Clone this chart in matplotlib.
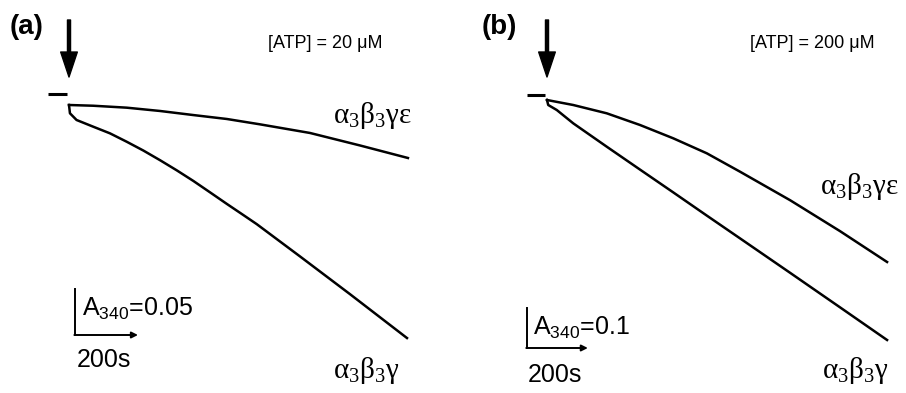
import matplotlib
matplotlib.use("Agg")
import matplotlib.pyplot as plt

plt.rcParams['font.family'] = ['Liberation Sans', 'DejaVu Sans']
plt.rcParams['mathtext.fontset'] = 'custom'
plt.rcParams['mathtext.rm'] = 'Liberation Serif'
plt.rcParams['mathtext.it'] = 'Liberation Serif'

# --- data (time in s, drop in A340 from the start) ---
# panel (a), [ATP] = 20 uM
t_a_eps = [0, 77, 183, 289, 394, 501, 606, 765, 924, 1076]
dA_a_eps = [0, 0.0008, 0.0029, 0.0065, 0.0109, 0.0152, 0.0210, 0.0304, 0.0440, 0.0576]
t_a_noeps = [0, 3, 24, 77, 130, 183, 236, 289, 342, 395, 448, 501, 553, 596, 733, 892, 1073]
dA_a_noeps = [0, 0.0090, 0.0163, 0.0236, 0.0308, 0.0399, 0.0495, 0.0600, 0.0710,
              0.0826, 0.0950, 0.1075, 0.1195, 0.1295, 0.1645, 0.2056, 0.2533]

# panel (b), [ATP] = 200 uM
t_b_eps = [0, 86, 196, 305, 414, 524, 633, 797, 961, 1115]
dA_b_eps = [0, 0.0125, 0.0333, 0.0625, 0.0958, 0.1333, 0.1793, 0.2505, 0.328, 0.405]
t_b_noeps = [0, 4, 32, 86, 196, 305, 414, 524, 633, 797, 961, 1115]
dA_b_noeps = [0, 0.0125, 0.025, 0.0583, 0.1168, 0.174, 0.231, 0.289, 0.346, 0.432, 0.5185, 0.6]

scale_time = 200  # s
scale_abs_a = 0.05
scale_abs_b = 0.1

W, H = 906, 393
fig = plt.figure(figsize=(W / 100, H / 100), dpi=100)


def make_axes(x0, x1, ox, oy, px_per_s, px_per_A):
    ax = fig.add_axes([x0 / W, 0, (x1 - x0) / W, 1])
    ax.set_xlim((x0 - ox) / px_per_s, (x1 - ox) / px_per_s)
    ax.set_ylim(-(H - oy) / px_per_A, oy / px_per_A)
    ax.axis('off')
    return ax


def draw_panel(ax, t1, d1, t2, d2, sbar_abs, sb_t, sb_top, dash, arrow):
    ax.plot(t1, [-v for v in d1], color='black', lw=1.8, solid_joinstyle='round')
    ax.plot(t2, [-v for v in d2], color='black', lw=1.8, solid_joinstyle='round')
    # baseline tick before injection
    ax.plot(dash[:2], [dash[2]] * 2, color='black', lw=2.2, solid_capstyle='butt')
    # injection arrow
    ax.annotate('', xy=(0, arrow[1]), xytext=(0, arrow[0]),
                arrowprops=dict(width=2.2, headwidth=12, headlength=18, color='black'))
    # scale bar
    ax.plot([sb_t, sb_t], [sb_top, sb_top - sbar_abs], color='black', lw=1.4)
    ax.annotate('', xy=(sb_t + scale_time, sb_top - sbar_abs), xytext=(sb_t - 2, sb_top - sbar_abs),
                arrowprops=dict(arrowstyle='-|>', color='black', lw=1.4, mutation_scale=9,
                                shrinkA=0, shrinkB=0))


ax_a = make_axes(0, 453, 69, 105, 63 / 200, 46 / 0.05)
draw_panel(ax_a, t_a_eps, dA_a_eps, t_a_noeps, dA_a_noeps, scale_abs_a,
           19, -0.2, (-67, -6, 0.012), (0.0924, 0.0304))

ax_b = make_axes(453, 906, 547, 100, 61 / 200, 40 / 0.1)
draw_panel(ax_b, t_b_eps, dA_b_eps, t_b_noeps, dA_b_noeps, scale_abs_b,
           -66, -0.52, (-66, -7, 0.0125), (0.2, 0.0575))


def ftext(x, y, s, **kw):
    fig.text(x / W, 1 - y / H, s, **kw)


ftext(10, 27, '(a)', fontsize=20, fontweight='bold', va='center')
ftext(482, 27, '(b)', fontsize=20, fontweight='bold', va='center')
ftext(268, 48, '[ATP] = 20 \u03bcM', fontsize=13, va='baseline')
ftext(750, 48, '[ATP] = 200 \u03bcM', fontsize=13, va='baseline')

lab_eps = '$\\mathrm{\u03b1_3\u03b2_3\u03b3\u03b5}$'
lab_noeps = '$\\mathrm{\u03b1_3\u03b2_3\u03b3}$'
ftext(333, 123, lab_eps, fontsize=21, va='baseline')
ftext(333, 378, lab_noeps, fontsize=21, va='baseline')
ftext(820, 194, lab_eps, fontsize=21, va='baseline')
ftext(822, 378, lab_noeps, fontsize=21, va='baseline')

ftext(82, 316, '$\\mathregular{A_{340}}$=0.05', fontsize=18, va='baseline')
ftext(533, 335, '$\\mathregular{A_{340}}$=0.1', fontsize=18, va='baseline')
ftext(77, 367, '200s', fontsize=18, va='baseline')
ftext(528, 382, '200s', fontsize=18, va='baseline')

fig.savefig('out.png', dpi=100)
